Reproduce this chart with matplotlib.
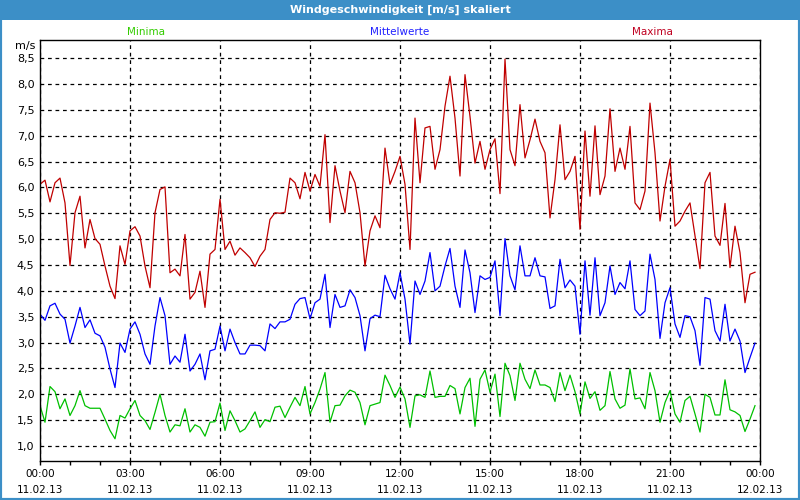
import matplotlib
matplotlib.use("Agg")
import matplotlib.pyplot as plt
from matplotlib.patches import Rectangle
import numpy as np

title = "Windgeschwindigkeit [m/s] skaliert"
series_names = ["Minima", "Mittelwerte", "Maxima"]
tick_hours = [0, 3, 6, 9, 12, 15, 18, 21, 24]
tick_labels = ["00:00\n11.02.13", "03:00\n11.02.13", "06:00\n11.02.13", "09:00\n11.02.13",
               "12:00\n11.02.13", "15:00\n11.02.13", "18:00\n11.02.13", "21:00\n11.02.13",
               "00:00\n12.02.13"]
y_ticks = [1.0, 1.5, 2.0, 2.5, 3.0, 3.5, 4.0, 4.5, 5.0, 5.5, 6.0, 6.5, 7.0, 7.5, 8.0, 8.5]

maxima = [6.06, 6.14, 5.72, 6.09, 6.18, 5.70, 4.49, 5.51, 5.83, 4.83, 5.38, 5.01, 4.90, 4.48, 4.09, 3.85,
          4.87, 4.51, 5.16, 5.24, 5.06, 4.48, 4.06, 5.51, 5.96,
          6.01, 4.35, 4.42, 4.29, 5.09, 3.84, 3.97, 4.38, 3.68, 4.71, 4.80, 5.77, 4.80, 4.96, 4.69, 4.83,
          4.74, 4.64, 4.47, 4.67, 4.80, 5.38, 5.51, 5.50,
          5.52, 6.18, 6.09, 5.78, 6.29, 5.93, 6.25, 6.02, 7.02, 5.32, 6.42, 5.93, 5.51, 6.31, 6.09, 5.51,
          4.48, 5.16, 5.45, 5.22, 6.76, 6.06, 6.31, 6.60,
          6.06, 4.80, 7.34, 6.09, 7.15, 7.18, 6.35, 6.73, 7.57, 8.15, 7.34, 6.22, 8.18, 7.37, 6.47, 6.89,
          6.35, 6.73, 6.94, 5.88, 8.48, 6.73, 6.42, 7.60,
          6.57, 6.92, 7.32, 6.89, 6.67, 5.41, 6.15, 7.21, 6.15, 6.31, 6.60, 5.19, 7.09, 5.83, 7.19, 5.86,
          6.22, 7.52, 6.31, 6.76, 6.35, 7.18, 5.70, 5.57,
          5.93, 7.63, 6.67, 5.35, 6.02, 6.54, 5.25, 5.35, 5.54, 5.70, 5.06, 4.43, 6.09, 6.29, 5.06, 4.88,
          5.69, 4.45, 5.25, 4.74, 3.77, 4.32, 4.36]

mittel = [3.55, 3.43, 3.71, 3.76, 3.55, 3.45, 2.99, 3.32, 3.68, 3.29, 3.44, 3.18, 3.13, 2.91, 2.49, 2.13,
          2.99, 2.81, 3.26, 3.40, 3.16, 2.78, 2.58, 3.32, 3.87,
          3.52, 2.58, 2.74, 2.62, 3.16, 2.45, 2.58, 2.78, 2.28, 2.84, 2.87, 3.32, 2.84, 3.26, 3.00, 2.78,
          2.78, 2.95, 2.95, 2.94, 2.84, 3.36, 3.27, 3.40,
          3.40, 3.45, 3.74, 3.85, 3.87, 3.46, 3.77, 3.84, 4.32, 3.29, 3.93, 3.68, 3.71, 4.02, 3.87, 3.52,
          2.84, 3.46, 3.53, 3.50, 4.30, 4.04, 3.84, 4.35,
          3.84, 2.97, 4.19, 3.93, 4.19, 4.74, 4.00, 4.09, 4.48, 4.82, 4.09, 3.68, 4.79, 4.35, 3.58, 4.29,
          4.22, 4.26, 4.58, 3.52, 5.01, 4.29, 4.02, 4.87,
          4.29, 4.29, 4.64, 4.29, 4.27, 3.66, 3.71, 4.61, 4.06, 4.21, 4.09, 3.16, 4.58, 3.53, 4.64, 3.52,
          3.77, 4.48, 3.93, 4.16, 4.04, 4.58, 3.64, 3.52,
          3.61, 4.71, 4.22, 3.08, 3.77, 4.06, 3.36, 3.10, 3.52, 3.50, 3.23, 2.56, 3.87, 3.84, 3.23, 3.03,
          3.74, 3.03, 3.26, 3.03, 2.42, 2.71, 2.99]

minima = [1.78, 1.46, 2.15, 2.05, 1.72, 1.91, 1.59, 1.78, 2.07, 1.78, 1.73, 1.73, 1.73, 1.52, 1.30, 1.14,
          1.59, 1.54, 1.72, 1.88, 1.59, 1.49, 1.32, 1.65, 2.00,
          1.59, 1.27, 1.41, 1.39, 1.72, 1.27, 1.41, 1.36, 1.19, 1.46, 1.47, 1.83, 1.30, 1.68, 1.49, 1.27,
          1.33, 1.49, 1.66, 1.36, 1.51, 1.47, 1.75, 1.77,
          1.55, 1.75, 1.94, 1.78, 2.15, 1.62, 1.84, 2.10, 2.42, 1.46, 1.78, 1.79, 1.97, 2.08, 2.04, 1.84,
          1.41, 1.78, 1.81, 1.84, 2.37, 2.17, 1.94, 2.14,
          1.91, 1.36, 1.97, 1.99, 1.94, 2.45, 1.94, 1.96, 1.96, 2.17, 2.11, 1.62, 2.13, 2.31, 1.38, 2.29,
          2.47, 2.04, 2.39, 1.57, 2.60, 2.36, 1.88, 2.60,
          2.29, 2.11, 2.47, 2.18, 2.18, 2.13, 1.86, 2.42, 2.07, 2.37, 2.05, 1.62, 2.24, 1.92, 2.05, 1.69,
          1.78, 2.44, 1.91, 1.73, 1.79, 2.49, 1.91, 1.93,
          1.72, 2.42, 2.07, 1.46, 1.84, 2.07, 1.62, 1.46, 1.88, 1.96, 1.62, 1.27, 2.00, 1.94, 1.60, 1.60,
          2.28, 1.70, 1.66, 1.59, 1.28, 1.52, 1.78]

hours = np.arange(len(maxima)) / 6.0

BLUE_BAR = "#3c8fc7"
fig = plt.figure(figsize=(8, 5), dpi=100)
fig.patch.set_facecolor("white")

# window frame + title bar
fig.add_artist(Rectangle((0, 0), 1, 1, transform=fig.transFigure, facecolor="none",
                         edgecolor=BLUE_BAR, linewidth=3, zorder=0))
fig.add_artist(Rectangle((0, 1 - 20 / 500), 1, 20 / 500, transform=fig.transFigure,
                         facecolor=BLUE_BAR, edgecolor="none", zorder=1))
fig.text(0.5, 1 - 10 / 500, title, color="white", fontsize=8, fontweight="bold",
         ha="center", va="center")

ax = fig.add_axes([40 / 800, 1 - 461 / 500, 720 / 800, 421 / 500])
ax.plot(hours, minima, color="#00c000", linewidth=0.9)
ax.plot(hours, mittel, color="#0000ff", linewidth=0.9)
ax.plot(hours, maxima, color="#c00000", linewidth=0.9)

ax.set_xlim(0, 24)
ax.set_ylim(0.71, 8.85)
ax.set_yticks(y_ticks)
ax.set_yticklabels([f"{v:.1f}".replace(".", ",") for v in y_ticks], fontsize=8)
ax.tick_params(axis="y", length=0, pad=4)
ax.set_xticks(tick_hours)
ax.set_xticklabels(tick_labels, fontsize=7.5, linespacing=1.75)
ax.set_xticks(np.arange(0, 25, 1), minor=True)
ax.tick_params(axis="x", which="both", direction="out", length=3, width=1, pad=3)

ax.grid(True, which="major", color="black", linestyle=(0, (3, 3)), linewidth=0.9)
for s in ax.spines.values():
    s.set_color("black")
    s.set_linewidth(1)

fig.text(25 / 800, 1 - 46 / 500, "m/s", fontsize=8, ha="center", va="center")
fig.text(146 / 800, 1 - 32 / 500, series_names[0], color="#33cc00", fontsize=7.5, ha="center", va="center")
fig.text(400 / 800, 1 - 32 / 500, series_names[1], color="#2020ff", fontsize=7.5, ha="center", va="center")
fig.text(652 / 800, 1 - 32 / 500, series_names[2], color="#c00020", fontsize=7.5, ha="center", va="center")

fig.savefig("out.png", dpi=100, facecolor="white")
